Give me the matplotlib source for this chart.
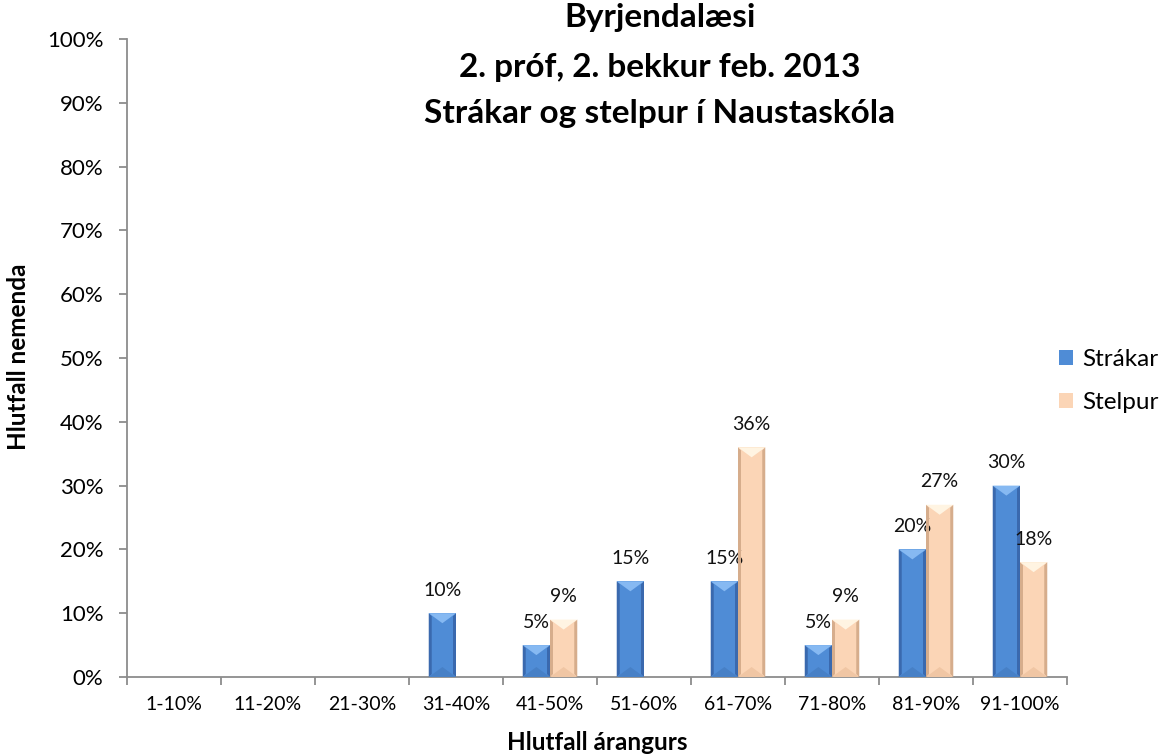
import matplotlib
matplotlib.use("Agg")
import matplotlib.pyplot as plt
from matplotlib.patches import Polygon
import numpy as np

plt.rcParams['font.family'] = ['Lato', 'DejaVu Sans']

categories = ["1-10%", "11-20%", "21-30%", "31-40%", "41-50%",
              "51-60%", "61-70%", "71-80%", "81-90%", "91-100%"]
strakar = [0, 0, 0, 10, 5, 15, 15, 5, 20, 30]
stelpur = [0, 0, 0, 0, 9, 0, 36, 9, 27, 18]
series_names = ["Strákar", "Stelpur"]
title_lines = ["Byrjendalæsi", "2. próf, 2. bekkur feb. 2013", "Strákar og stelpur í Naustaskóla"]

W, H = 1166, 755
fig = plt.figure(figsize=(W / 100, H / 100), dpi=100)
ax_l, ax_r, ax_t, ax_b = 127, 1067, 39, 677
ax = fig.add_axes([ax_l / W, 1 - ax_b / H, (ax_r - ax_l) / W, (ax_b - ax_t) / H])

n = len(categories)
x = np.arange(n) + 0.5
bw = 0.29

# colours: main, top bevel, bottom bevel, side edge
styles = [
    {"main": "#4F8CD6", "top": "#86B9F2", "bot": "#4780C6", "side": "#3A69AE"},
    {"main": "#FBD5B6", "top": "#FFF4E2", "bot": "#F0C6A4", "side": "#D6AD8C"},
]

# pixel -> data conversion for bevels
px_x = n / (ax_r - ax_l)
px_y = 1.0 / (ax_b - ax_t)

all_vals = [np.array(strakar) / 100, np.array(stelpur) / 100]
offsets = [-bw / 2, bw / 2]
containers = []
for vals, off, st, name in zip(all_vals, offsets, styles, series_names):
    bars = ax.bar(x + off, vals, width=bw, color=st["main"], label=name,
                  edgecolor="none", zorder=2)
    containers.append(bars)
    for rect, v in zip(bars, vals):
        if v <= 0:
            continue
        x0, w, h = rect.get_x(), rect.get_width(), rect.get_height()
        d = min(10 * px_y, h / 2.5)
        s = 3 * px_x
        ax.add_patch(Polygon([(x0, 0), (x0 + s, d * 0.3), (x0 + s, h - d * 0.3), (x0, h)],
                             closed=True, color=st["side"], lw=0, zorder=3))
        ax.add_patch(Polygon([(x0 + w, 0), (x0 + w - s, d * 0.3), (x0 + w - s, h - d * 0.3), (x0 + w, h)],
                             closed=True, color=st["side"], lw=0, zorder=3))
        ax.add_patch(Polygon([(x0, h), (x0 + w, h), (x0 + w / 2, h - d)],
                             closed=True, color=st["top"], lw=0, zorder=4))
        ax.add_patch(Polygon([(x0, 0), (x0 + w, 0), (x0 + w / 2, d)],
                             closed=True, color=st["bot"], lw=0, zorder=4))
        ax.annotate(f"{v:.0%}", (x0 + w / 2, h), xytext=(0, 16.5), textcoords="offset points",
                    ha="center", va="center", fontsize=14, color="#111111")

ax.set_xlim(0, n)
ax.set_ylim(0, 1)
ax.set_yticks(np.arange(0, 1.01, 0.1))
ax.set_yticklabels([f"{t:.0%}" for t in np.arange(0, 1.01, 0.1)], fontsize=16)
ax.set_xticks(np.arange(0, n + 1))
ax.set_xticklabels([])
ax.set_xticks(x, minor=True)
ax.set_xticklabels(categories, minor=True, fontsize=14)
ax.tick_params(axis="x", which="minor", length=0, pad=14)
ax.tick_params(axis="x", which="major", length=6, color="#8C8C8C", width=1.3)
ax.tick_params(axis="y", length=6, color="#8C8C8C", width=1.3, pad=11)
for sp in ("top", "right"):
    ax.spines[sp].set_visible(False)
for sp in ("left", "bottom"):
    ax.spines[sp].set_color("#8C8C8C")
    ax.spines[sp].set_linewidth(1.3)

tx = 660 / W
for ty, line in zip([18, 67, 114], title_lines):
    fig.text(tx, 1 - ty / H, line, ha="center", va="center", fontsize=24, fontweight="bold")

fig.text(597 / W, 1 - 742 / H, "Hlutfall árangurs", ha="center", va="center", fontsize=17.5, fontweight="bold")
fig.text(19 / W, 1 - 357 / H, "Hlutfall nemenda", ha="center", va="center", rotation=90,
         fontsize=17.5, fontweight="bold")

ax.legend(handles=containers, loc="center left", bbox_to_anchor=(1059 / W, 1 - 381 / H),
          bbox_transform=fig.transFigure, frameon=False, fontsize=17.5,
          handlelength=0.58, handleheight=0.58, handletextpad=0.37, labelspacing=0.93,
          borderaxespad=0, borderpad=0)

fig.savefig("out.png", dpi=100)
